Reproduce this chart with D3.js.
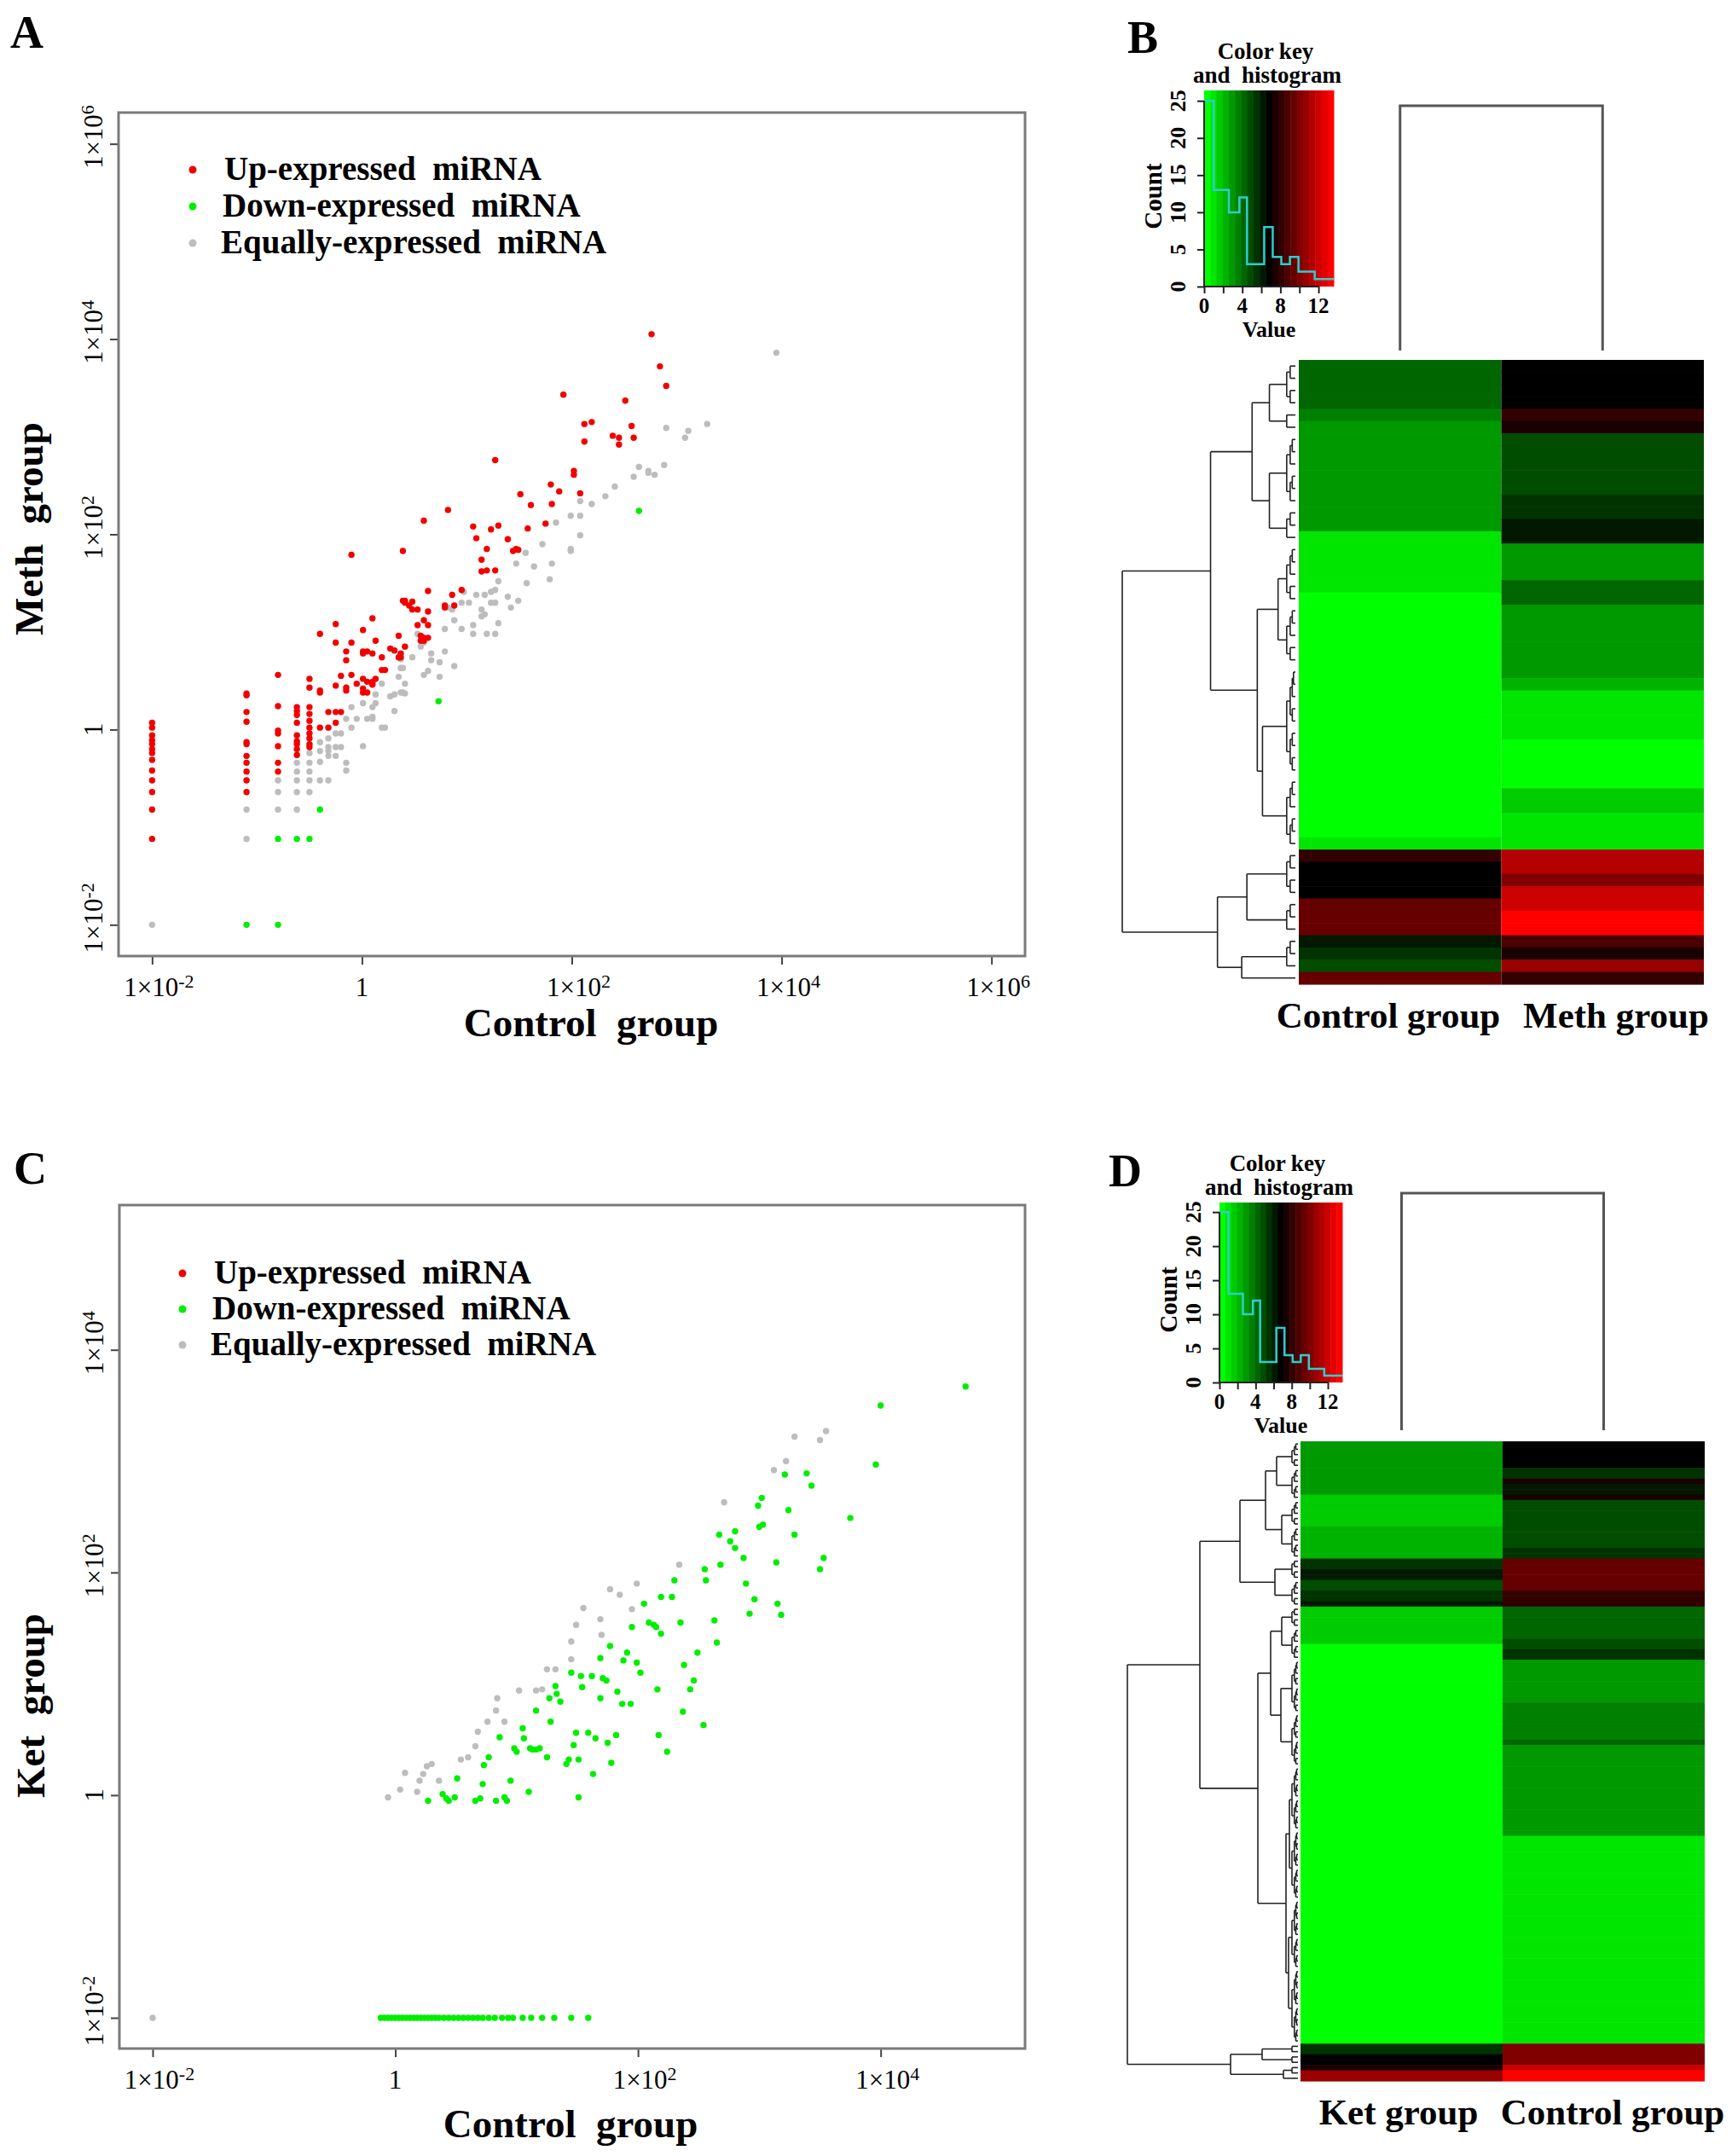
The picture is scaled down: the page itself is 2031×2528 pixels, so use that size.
<!DOCTYPE html>
<html>
<head>
<meta charset="utf-8">
<script src="https://cdn.jsdelivr.net/npm/d3@7"></script>
<style>
  body { margin: 0; background: #fff; }
  text { font-family: "Liberation Serif", "Times New Roman", serif; white-space: pre; }
</style>
</head>
<body>
<svg id="fig" width="2031" height="2528"></svg>
<script>
// ---- scatter data, stored as log10 values [log10(control), log10(treated)] ----
const aUp = [
  [-2,0.07],[-2,0.02],[-2,-0.06],[-2,-0.11],[-2,-0.15],[-2,-0.2],[-2,-0.24],[-2,-0.31],[-2,-0.42],[-2,-0.52],[-2,-0.64],[-2,-0.82],[-2,-1.12],
  [-1.1,0.37],[-1.1,0.35],[-1.1,0.18],[-1.1,0.08],[-1.1,-0.13],[-1.1,-0.15],[-1.1,-0.27],[-1.1,-0.34],[-1.1,-0.43],[-1.1,-0.52],[-1.1,-0.64],
  [-0.8,0.56],[-0.8,0.24],[-0.8,-0.01],[-0.8,-0.04],[-0.8,-0.17],[-0.8,-0.34],[-0.8,-0.43],
  [-0.62,0.23],[-0.62,0.19],[-0.62,0.15],[-0.62,0.07],[-0.62,-0.06],[-0.62,-0.12],[-0.62,-0.15],[-0.62,-0.2],[-0.62,-0.26],
  [-0.5,0.52],[-0.5,0.43],[-0.5,0.23],[-0.5,0.16],[-0.5,0.09],[-0.5,0.02],[-0.5,-0.04],[-0.5,-0.09],[-0.5,-0.15],[-0.5,-0.18],
  [-0.4,0.98],[-0.4,0.4],[-0.4,0.38],[-0.4,0.02],[-0.32,0.02],[-0.32,0.18],
  [-0.25,1.08],[-0.25,0.89],[-0.25,0.45],[-0.25,0.18],[-0.25,0.07],[-0.2,0.55],[-0.2,0.18],
  [-0.15,0.8],[-0.15,0.71],[-0.15,0.43],[-0.15,0.4],[-0.1,1.79],[-0.1,0.89],[-0.1,0.56],[-0.05,0.47],
  [0.01,1.02],[0.01,0.8],[0.01,0.78],[0.01,0.52],[0.01,0.42],[0.01,0.38],[0.05,0.8],[0.05,0.49],[0.05,0.38],
  [0.1,1.14],[0.1,0.78],[0.1,0.49],[0.1,0.47],[0.1,0.46],[0.13,0.91],[0.13,0.52],[0.19,0.74],[0.19,0.61],
  [0.22,0.61],[0.27,0.83],[0.31,0.81],[0.35,0.96],[0.35,0.74],[0.37,0.78],[0.37,0.74],[0.39,1.83],[0.39,1.32],
  [0.41,1.32],[0.41,1.3],[0.41,0.85],[0.45,1.27],[0.48,1.31],[0.48,1.23],[0.53,1.23],[0.53,1.07],[0.56,0.96],[0.56,0.91],
  [0.59,2.14],[0.59,1.12],[0.59,0.94],[0.59,0.91],[0.63,1.42],[0.63,1.21],[0.63,1.07],[0.63,0.94],
  [0.79,1.27],[0.79,1.25],[0.82,2.25],[0.86,1.38],[0.88,1.27],[0.95,1.43],[1.06,2.08],[1.09,1.96],
  [1.14,1.62],[1.14,1.74],[1.19,1.85],[1.19,1.63],[1.23,2.05],[1.27,1.63],[1.27,2.76],[1.3,2.09],[1.39,1.95],
  [1.44,1.83],[1.47,1.85],[1.49,1.84],[1.51,2.41],[1.58,2.06],[1.61,2.3],[1.75,2.11],[1.8,2.51],[1.81,2.31],
  [1.88,2.44],[1.92,3.43],[2.02,2.65],[2.02,2.61],[2.08,2.42],[2.12,3.13],[2.12,2.95],[2.19,3.15],[2.39,3.01],
  [2.45,2.99],[2.45,2.92],[2.51,3.37],[2.57,3.11],[2.59,2.99],[2.76,4.05],[2.84,3.72],[2.9,3.52]
];
const aDown = [[-1.1,-2],[-0.8,-1.12],[-0.8,-2],[-0.62,-1.12],[-0.5,-1.12],[-0.4,-0.82],[0.73,0.29],[2.64,2.24]];
const aEq = [
  [-2,-2],[-1.1,-0.82],[-1.1,-1.12],[-0.8,-0.52],[-0.8,-0.64],[-0.8,-0.82],
  [-0.62,-0.34],[-0.62,-0.43],[-0.62,-0.52],[-0.62,-0.64],[-0.62,-0.82],
  [-0.5,-0.24],[-0.5,-0.34],[-0.5,-0.43],[-0.5,-0.52],[-0.5,-0.64],
  [-0.4,-0.13],[-0.4,-0.22],[-0.4,-0.33],[-0.4,-0.52],[-0.32,-0.09],[-0.32,-0.18],[-0.32,-0.22],[-0.32,-0.27],[-0.32,-0.52],
  [-0.25,-0.04],[-0.25,-0.18],[-0.25,-0.27],[-0.2,-0.04],[-0.2,-0.18],[-0.15,0.11],[-0.15,-0.34],[-0.15,-0.42],
  [-0.1,0.23],[-0.1,0.02],[-0.05,0.11],[0.01,0.27],[0.01,-0.17],[0.05,0.11],[0.1,0.23],[0.1,0.13],[0.1,0.11],
  [0.13,0.36],[0.13,0.27],[0.19,0.47],[0.19,0.02],[0.22,0.02],[0.27,0.34],[0.31,0.36],[0.31,0.19],[0.35,0.54],
  [0.37,0.72],[0.37,0.63],[0.37,0.38],[0.39,0.63],[0.39,0.38],[0.41,0.47],[0.41,0.37],[0.48,0.74],[0.53,0.98],
  [0.56,0.85],[0.59,0.89],[0.59,0.56],[0.63,0.6],[0.66,0.78],[0.66,0.71],[0.74,0.69],[0.74,0.54],[0.79,1.03],[0.79,0.8],
  [0.82,1.25],[0.86,1.23],[0.88,1.12],[0.88,0.65],[0.95,1.3],[0.95,1.03],[0.97,1.41],[1.02,1.3],[1.06,1.07],[1.06,0.98],
  [1.09,1.38],[1.14,1.23],[1.14,1.16],[1.17,1.18],[1.17,1.38],[1.19,0.98],[1.23,1.41],[1.23,1.3],[1.27,1.43],[1.27,1.3],
  [1.27,0.98],[1.3,1.52],[1.3,1.09],[1.39,1.36],[1.42,1.25],[1.47,1.7],[1.49,1.32],[1.56,1.81],[1.57,1.5],[1.64,1.67],
  [1.72,1.9],[1.79,1.54],[1.81,1.7],[1.85,2.12],[1.99,2.19],[1.99,1.85],[1.99,1.83],[2.08,2.34],[2.08,2.19],[2.08,1.99],
  [2.19,2.31],[2.32,2.39],[2.41,2.49],[2.59,2.59],[2.64,2.69],[2.73,2.65],[2.73,2.63],[2.79,2.61],[2.88,2.71],
  [2.9,3.09],[3.08,2.99],[3.11,3.06],[3.29,3.13],[3.95,3.86]
];

const cUp = [];
const cDown = [
  [-0.12,-2],[-0.09,-2],[-0.06,-2],[-0.03,-2],[0,-2],[0.03,-2],[0.06,-2],[0.09,-2],[0.12,-2],[0.15,-2],[0.18,-2],
  [0.21,-2],[0.24,-2],[0.27,-2],[0.3,-2],[0.33,-2],[0.36,-2],[0.4,-2],[0.44,-2],[0.48,-2],[0.52,-2],[0.56,-2],
  [0.6,-2],[0.64,-2],[0.68,-2],[0.72,-2],[0.77,-2],[0.82,-2],[0.88,-2],[0.93,-2],[0.97,-2],[1.05,-2],[1.12,-2],
  [1.21,-2],[1.31,-2],[1.45,-2],[1.59,-2],
  [0.27,-0.05],[0.39,0.01],[0.42,-0.03],[0.44,-0.05],[0.49,-0.02],[0.51,0.15],[0.66,-0.05],[0.7,-0.03],[0.72,0.1],
  [0.73,0.27],[0.77,0.34],[0.83,-0.05],[0.86,0.52],[0.9,-0.02],[0.92,-0.05],[0.95,0.13],[0.98,0.42],[1.0,0.39],
  [1.05,0.6],[1.06,0.51],[1.1,0.03],[1.11,0.42],[1.13,0.41],[1.16,0.76],[1.16,0.41],[1.19,0.42],[1.25,0.34],
  [1.27,0.87],[1.28,0.66],[1.32,0.98],[1.33,0.91],[1.36,0.84],[1.41,0.28],[1.43,0.32],[1.45,1.1],[1.47,0.45],
  [1.49,0.56],[1.51,0.32],[1.51,-0.02],[1.53,1.07],[1.54,0.97],[1.59,0.56],[1.62,1.07],[1.63,0.19],[1.65,0.51],
  [1.69,1.23],[1.69,0.87],[1.71,1.05],[1.74,1.03],[1.75,0.47],[1.77,1.34],[1.78,0.29],[1.82,0.54],[1.83,0.93],
  [1.87,0.82],[1.88,1.21],[1.91,1.28],[1.94,0.82],[1.95,1.51],[1.99,1.19],[2.02,1.1],[2.05,1.72],[2.09,1.55],
  [2.13,1.53],[2.15,1.51],[2.16,0.95],[2.17,0.54],[2.19,1.45],[2.19,1.78],[2.24,0.39],[2.28,1.78],[2.3,1.93],
  [2.35,1.55],[2.37,0.75],[2.38,1.17],[2.43,0.95],[2.46,1.03],[2.49,1.28],[2.54,0.63],[2.55,2.03],[2.56,1.93],
  [2.63,1.57],[2.65,1.37],[2.67,2.34],[2.68,2.07],[2.76,2.28],[2.8,2.37],[2.8,2.22],[2.87,2.13],[2.89,1.9],
  [2.92,1.63],[2.96,1.76],[2.99,2.6],[3.0,2.41],[3.02,2.67],[3.03,2.43],[3.14,2.09],[3.15,1.72],[3.18,1.62],
  [3.21,2.88],[3.24,2.56],[3.29,2.34],[3.39,2.89],[3.43,2.78],[3.5,2.03],[3.53,2.13],[3.75,2.49],[3.96,2.97],
  [4.0,3.5],[4.7,3.67]
];
const cEq = [
  [-2,-2],[-0.06,-0.02],[0.04,0.05],[0.08,0.2],[0.18,0.03],[0.2,0.13],[0.23,0.19],[0.26,0.26],[0.3,0.28],[0.36,0.13],
  [0.54,0.32],[0.6,0.34],[0.66,0.44],[0.68,0.57],[0.76,0.66],[0.84,0.87],[0.83,0.76],[0.9,0.66],[1.02,0.94],
  [1.16,0.94],[1.21,0.95],[1.25,1.13],[1.32,1.13],[1.45,1.38],[1.45,1.22],[1.49,1.53],[1.55,1.68],[1.69,1.58],
  [1.7,1.44],[1.77,1.85],[1.85,1.8],[1.95,1.67],[1.99,1.9],[2.34,2.07],[2.71,2.63],[3.12,2.92],[3.22,3.0],
  [3.29,3.22],[3.5,3.19],[3.55,3.27]
];

const aTicks = [-2, 0, 2, 4, 6];
const cTicksX = [-2, 0, 2, 4];
const cTicksY = [-2, 0, 2, 4];
const legendLabels = ["Up-expressed  miRNA", "Down-expressed  miRNA", "Equally-expressed  miRNA"];

// ---- heatmap data: runs of [rows, value] read top to bottom ----
const bControl = [[4,4.13],[1,3.6],[9,2.83],[1,0.83],[4,1.25],[5,0],[1,0.61],[14,0],[1,0.65],[1,7.79],[3,6.8],[1,9.07],[2,9.49],[1,6.1],[1,5.52],[1,4.88],[1,9.63]];
const bMeth = [[4,6.8],[1,8.35],[1,7.36],[5,4.67],[2,5.31],[2,5.89],[3,3.12],[2,4.35],[6,3.12],[1,2.53],[4,0.83],[4,0],[2,1.89],[3,0.83],[2,11.07],[1,10.21],[2,12.13],[2,13.6],[1,8.93],[1,7.65],[1,10.48],[1,8.08]];
const dKet = [[7,3.12],[3,2.69],[1,1.68],[5,1.47],[2,2.11],[4,2.32],[2,5.52],[2,5.95],[2,5.09],[2,5.39],[1,6.16],[7,1.47],[22,0],[1,0.4],[52,0],[2,5.68],[2,6.53],[1,7.65],[2,10.64]];
const dControl = [[5,6.8],[2,5.68],[1,7.65],[2,6.16],[1,7.23],[9,5.09],[2,5.52],[6,9.2],[3,8.08],[6,4.4],[2,5.09],[2,5.52],[8,2.96],[7,3.39],[1,4.24],[4,3.17],[13,2.75],[39,1.25],[4,10.21],[1,11.92],[2,13.6]];

// row dendrograms: [height, child, child]; a bare number = tight group of that many leaves
const bTree = [1.0,
  [0.49, [0.25, [0.15, 4, 2], [0.15, 6, 3]], [0.22, [0.10, 5, 5], [0.19, 9, 6]]],
  [0.45, [0.28, 4, 3], [0.31, 3, 1]]];
const dTree = [1.0,
  [0.575,
    [0.34, [0.19, [0.125, 5, 6], [0.095, 5, 6]], [0.135, 4, 5]],
    [0.235, [0.16, [0.095, 4, 6], [0.1, 10, 10]], [0.07, [0.05, 12, 13], [0.055, 13, 14]]]],
  [0.395, [0.21, 2, 2], [0.085, 2, 1]]];

// colour key histogram
const keyEdges = [0, 1, 2.6, 3.7, 4.5, 6.3, 7.2, 8.1, 9.0, 9.9, 11.6, 13.6];
const keyCounts = [25, 13, 10, 12, 3, 8, 4, 3, 4, 2, 1];
const keyMax = 13.6;
const nBands = 21;

const svg = d3.select("#fig");

// green - black - red palette
const palette = d3.range(nBands).map(i => {
  const t = i / (nBands - 1);
  return t < 0.5 ? d3.rgb(0, Math.round(255 * (1 - 2 * t)), 0) + "" : d3.rgb(Math.round(255 * (2 * t - 1)), 0, 0) + "";
});
const heatColor = d3.scaleQuantize().domain([0, keyMax]).range(palette);

function expLabel(t, e) {
  t.attr("font-size", 31).attr("text-anchor", "middle");
  if (e === 0) { t.text("1"); return; }
  t.append("tspan").text("1\u00d710");
  t.append("tspan").attr("dy", "-0.45em").attr("font-size", 22).text(e);
}

function drawScatter(cfg) {
  const g = svg.append("g");
  const {l, r, t, b} = cfg.box;
  const x = d3.scaleLog().domain(cfg.xDom.map(e => 10 ** e)).range([l, r]);
  const y = d3.scaleLog().domain(cfg.yDom.map(e => 10 ** e)).range([b, t]);

  g.append("g").attr("transform", `translate(0,${b})`)
    .call(d3.axisBottom(x).tickValues(cfg.xTicks.map(e => 10 ** e)).tickSize(10).tickFormat(""))
    .call(a => a.select(".domain").remove())
    .call(a => a.selectAll("line").attr("stroke", "#444").attr("stroke-width", 2));
  g.append("g").attr("transform", `translate(${l},0)`)
    .call(d3.axisLeft(y).tickValues(cfg.yTicks.map(e => 10 ** e)).tickSize(10).tickFormat(""))
    .call(a => a.select(".domain").remove())
    .call(a => a.selectAll("line").attr("stroke", "#444").attr("stroke-width", 2));

  cfg.xTicks.forEach(e => expLabel(g.append("text")
    .attr("x", x(10 ** e) + (e === 0 ? 0 : 8)).attr("y", b + 47), e));
  cfg.yTicks.forEach(e => expLabel(g.append("text")
    .attr("transform", `translate(${l - 19},${y(10 ** e) - (e === 0 ? 0 : 8)}) rotate(-90)`), e));

  const dot = (data, col) => g.append("g").selectAll("circle").data(data).join("circle")
    .attr("cx", d => x(10 ** d[0])).attr("cy", d => y(10 ** d[1])).attr("r", 3.7).attr("fill", col);
  dot(cfg.eq, "#bdbdbd");
  dot(cfg.up, "#f20000");
  dot(cfg.down, "#00ee00");

  g.append("rect").attr("x", l).attr("y", t).attr("width", r - l).attr("height", b - t)
    .attr("fill", "none").attr("stroke", "#7a7a7a").attr("stroke-width", 3);

  const legCols = ["#f20000", "#00ee00", "#bdbdbd"];
  legendLabels.forEach((lab, i) => {
    const cy = cfg.leg.y + i * cfg.leg.dy;
    g.append("circle").attr("cx", cfg.leg.dotX).attr("cy", cy).attr("r", 4.5).attr("fill", legCols[i]);
    g.append("text").attr("x", cfg.leg.textX - i * 2).attr("y", cy + 12)
      .attr("font-size", 39).attr("font-weight", "bold").text(lab);
  });

  g.append("text").attr("x", cfg.xTitle[0]).attr("y", cfg.xTitle[1]).attr("text-anchor", "middle")
    .attr("font-size", 47).attr("font-weight", "bold").text("Control  group");
  g.append("text").attr("transform", `translate(${cfg.yTitle[0]},${cfg.yTitle[1]}) rotate(-90)`)
    .attr("text-anchor", "middle").attr("font-size", 47).attr("font-weight", "bold").text(cfg.yName);
}

function expand(runs) {
  const out = [];
  runs.forEach(([n, v]) => { for (let i = 0; i < n; i++) out.push(v); });
  return out;
}

function grp(n, top) {
  if (n === 1) return {h: 0};
  const a = Math.ceil(n / 2);
  return {h: top, children: [grp(a, top * 0.6), grp(n - a, top * 0.6)]};
}
function toNode(spec, gTop) {
  if (typeof spec === "number") return grp(spec, gTop);
  return {h: spec[0], children: spec.slice(1).map(s => toNode(s, gTop))};
}

function drawHeat(cfg) {
  const g = svg.append("g");
  const {l, r, t, b} = cfg.heat;
  const cols = cfg.cols.map(c => expand(c.runs));
  const n = cols[0].length;
  const rowY = d3.scaleBand().domain(d3.range(n)).range([t, b]);
  const colX = d3.scaleBand().domain(cfg.cols.map(c => c.name)).range([l, r]);

  cfg.cols.forEach((c, j) => {
    g.append("g").selectAll("rect").data(cols[j]).join("rect")
      .attr("x", colX(c.name)).attr("y", (d, i) => rowY(i))
      .attr("width", colX.bandwidth()).attr("height", rowY.bandwidth() + 0.6)
      .attr("fill", d => heatColor(d));
    g.append("text").attr("x", cfg.labelX[j]).attr("y", cfg.labelY).attr("text-anchor", "middle")
      .attr("font-size", 43).attr("font-weight", "bold").text(c.name);
  });

  // row dendrogram
  const root = toNode(cfg.tree, cfg.gTop);
  const hx = d3.scaleLinear().domain([0, 1]).range([cfg.leafX, cfg.rootX]);
  let idx = 0;
  (function place(node) {
    if (!node.children) { node.y = rowY(idx) + rowY.bandwidth() / 2; idx++; return; }
    node.children.forEach(place);
    node.y = (node.children[0].y + node.children[node.children.length - 1].y) / 2;
  })(root);
  const segs = [];
  (function walk(node) {
    if (!node.children) return;
    const xx = hx(node.h);
    const last = node.children[node.children.length - 1];
    segs.push([xx, node.children[0].y, xx, last.y]);
    node.children.forEach(c => { segs.push([xx, c.y, hx(c.h), c.y]); walk(c); });
  })(root);
  g.append("g").selectAll("line").data(segs).join("line")
    .attr("x1", d => d[0]).attr("y1", d => d[1]).attr("x2", d => d[2]).attr("y2", d => d[3])
    .attr("stroke", "#222").attr("stroke-width", 1.6);

  // column dendrogram (two leaves joined at height 1)
  const cy = d3.scaleLinear().domain([0, 1]).range([cfg.colDend[1], cfg.colDend[0]]);
  const cx = cfg.cols.map(c => colX(c.name) + colX.bandwidth() / 2);
  g.append("path")
    .attr("d", `M${cx[0]},${cy(0)}V${cy(1)}H${cx[1]}V${cy(0)}`)
    .attr("fill", "none").attr("stroke", "#555").attr("stroke-width", 3);

  // colour key + histogram
  const k = cfg.key;
  const kx = d3.scaleLinear().domain([0, keyMax]).range([k.l, k.r]);
  const ky = d3.scaleLinear().domain([0, 26.4]).range([k.b, k.t]);
  const bw = keyMax / nBands;
  g.append("g").selectAll("rect").data(palette).join("rect")
    .attr("x", (d, i) => kx(i * bw)).attr("y", k.t)
    .attr("width", kx(bw) - kx(0) + 0.5).attr("height", k.b - k.t).attr("fill", d => d);
  const pts = keyCounts.map((c, i) => [keyEdges[i], c]);
  pts.push([keyEdges[keyEdges.length - 1], keyCounts[keyCounts.length - 1]]);
  g.append("path").attr("d", d3.line().x(d => kx(d[0])).y(d => ky(d[1])).curve(d3.curveStepAfter)(pts))
    .attr("fill", "none").attr("stroke", "#2ccfcf").attr("stroke-width", 2.5);

  g.append("g").attr("transform", `translate(${k.l},0)`)
    .call(d3.axisLeft(ky).tickValues([0, 5, 10, 15, 20, 25]).tickSize(8).tickFormat(""))
    .call(a => a.select(".domain").attr("d", `M0,${ky(0)}V${ky(25)}`))
    .call(a => a.selectAll("line, path").attr("stroke", "#222").attr("stroke-width", 2));
  [0, 5, 10, 15, 20, 25].forEach(v => g.append("text")
    .attr("transform", `translate(${k.l - 22},${ky(v)}) rotate(-90)`)
    .attr("text-anchor", "middle").attr("font-size", 26).attr("font-weight", "bold").text(v));
  g.append("g").attr("transform", `translate(0,${k.b})`)
    .call(d3.axisBottom(kx).tickValues([0, 2, 4, 6, 8, 10, 12]).tickSize(8).tickFormat(""))
    .call(a => a.select(".domain").attr("d", `M${kx(0)},0H${kx(12)}`))
    .call(a => a.selectAll("line, path").attr("stroke", "#222").attr("stroke-width", 2));
  [0, 4, 8, 12].forEach(v => g.append("text").attr("x", kx(v)).attr("y", k.b + 31)
    .attr("text-anchor", "middle").attr("font-size", 25).attr("font-weight", "bold").text(v));
  g.append("text").attr("x", (k.l + k.r) / 2).attr("y", k.b + 59).attr("text-anchor", "middle")
    .attr("font-size", 26).attr("font-weight", "bold").text("Value");
  g.append("text").attr("transform", `translate(${k.l - 50},${(ky(0) + ky(25)) / 2 + 3}) rotate(-90)`)
    .attr("text-anchor", "middle").attr("font-size", 29).attr("font-weight", "bold").text("Count");
  g.append("text").attr("x", (k.l + k.r) / 2 - 4).attr("y", k.t - 37).attr("text-anchor", "middle")
    .attr("font-size", 27).attr("font-weight", "bold").text("Color key");
  g.append("text").attr("x", (k.l + k.r) / 2 - 2).attr("y", k.t - 9).attr("text-anchor", "middle")
    .attr("font-size", 27).attr("font-weight", "bold").text("and  histogram");
}

drawScatter({
  box: {l: 139, r: 1202, t: 132, b: 1121},
  xDom: [-2.32, 6.32], yDom: [-2.32, 6.32], xTicks: aTicks, yTicks: aTicks,
  up: aUp, down: aDown, eq: aEq,
  leg: {dotX: 226, textX: 263, y: 199, dy: 43},
  xTitle: [693, 1215], yTitle: [50, 620], yName: "Meth  group"
});
drawScatter({
  box: {l: 140, r: 1202, t: 1413, b: 2402},
  xDom: [-2.274, 5.19], yDom: [-2.276, 5.30], xTicks: cTicksX, yTicks: cTicksY,
  up: cUp, down: cDown, eq: cEq,
  leg: {dotX: 214, textX: 251, y: 1493, dy: 42},
  xTitle: [669, 2506], yTitle: [52, 2000], yName: "Ket  group"
});
drawHeat({
  heat: {l: 1523, r: 1998, t: 422, b: 1154},
  cols: [{name: "Control group", runs: bControl}, {name: "Meth group", runs: bMeth}],
  labelX: [1628, 1895], labelY: 1205,
  tree: bTree, gTop: 0.05, leafX: 1519, rootX: 1316,
  colDend: [124, 411],
  key: {l: 1412, r: 1564, t: 106, b: 336}
});
drawHeat({
  heat: {l: 1525, r: 1999, t: 1690, b: 2440},
  cols: [{name: "Ket group", runs: dKet}, {name: "Control group", runs: dControl}],
  labelX: [1640, 1891], labelY: 2491,
  tree: dTree, gTop: 0.035, leafX: 1522, rootX: 1322,
  colDend: [1399, 1677],
  key: {l: 1430, r: 1574, t: 1410, b: 1621}
});

// panel letters
[["A", 12, 56], ["B", 1322, 62], ["C", 16, 1388], ["D", 1300, 1391]].forEach(([s, x, y]) =>
  svg.append("text").attr("x", x).attr("y", y).attr("font-size", 54).attr("font-weight", "bold").text(s));
</script>
</body>
</html>
